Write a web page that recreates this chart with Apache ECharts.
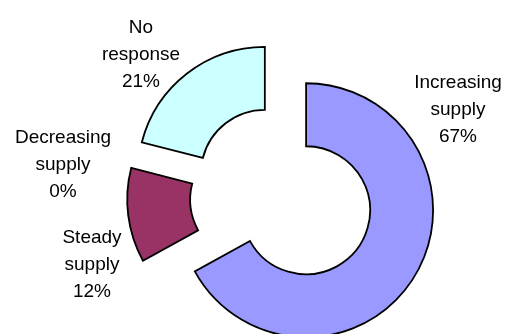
<!DOCTYPE html>
<html>
<head>
<meta charset="utf-8">
<script src="https://cdn.jsdelivr.net/npm/echarts@6/dist/echarts.min.js"></script>
<style>
  html, body { margin: 0; padding: 0; background: #ffffff; }
  #chart { width: 506px; height: 334px; }
</style>
</head>
<body>
<div id="chart"></div>
<script>
// Survey responses on supply trend (percent of respondents)
var categories = ['Increasing supply', 'Steady supply', 'Decreasing supply', 'No response'];
var shares = [67, 12, 0, 21];
var sliceColors = ['#9999FF', '#993366', '#993366', '#CCFFFF'];

// Where each multi-line label block is centred
var labelAnchors = [[458, 110], [92, 265], [63, 165], [141, 55]];

var chart = echarts.init(document.getElementById('chart'), null, { renderer: 'canvas' });

// Exploded ring: every slice pulled out from the centre
var ringData = categories.map(function (name, i) {
  var style = {
    color: sliceColors[i],
    borderColor: '#000000',
    borderWidth: shares[i] === 0 ? 0 : 1.8,
    borderJoin: 'miter'
  };
  return {
    name: name,
    value: shares[i],
    selected: true,
    itemStyle: style,
    select: { itemStyle: style }
  };
});

// Same shares again, carrying only the category labels
var labelData = categories.map(function (name, i) {
  return { name: name, value: shares[i] };
});

chart.setOption({
  animation: false,
  backgroundColor: '#ffffff',
  series: [{
    type: 'pie',
    center: [282, 196],
    radius: [64, 127],
    startAngle: 90,
    clockwise: true,
    selectedMode: 'multiple',
    selectedOffset: 28,
    data: ringData,
    emphasis: { disabled: true },
    label: { show: false },
    labelLine: { show: false }
  }, {
    type: 'pie',
    center: [282, 196],
    radius: [64, 127],
    startAngle: 90,
    clockwise: true,
    silent: true,
    selectedMode: false,
    minShowLabelAngle: 0,
    avoidLabelOverlap: false,
    data: labelData,
    itemStyle: { color: 'rgba(0,0,0,0)', borderWidth: 0 },
    emphasis: { disabled: true },
    label: {
      show: true,
      position: 'inside',
      overflow: 'none',
      fontFamily: 'Liberation Sans, Arial, sans-serif',
      fontSize: 19,
      lineHeight: 27,
      color: '#000000',
      align: 'center',
      verticalAlign: 'middle',
      formatter: function (p) {
        return p.name.replace(' ', '\n') + '\n' + p.value + '%';
      }
    },
    labelLine: { show: false },
    labelLayout: function (params) {
      var a = labelAnchors[params.dataIndex];
      return { x: a[0], y: a[1], align: 'center', verticalAlign: 'middle' };
    }
  }]
});
</script>
</body>
</html>
